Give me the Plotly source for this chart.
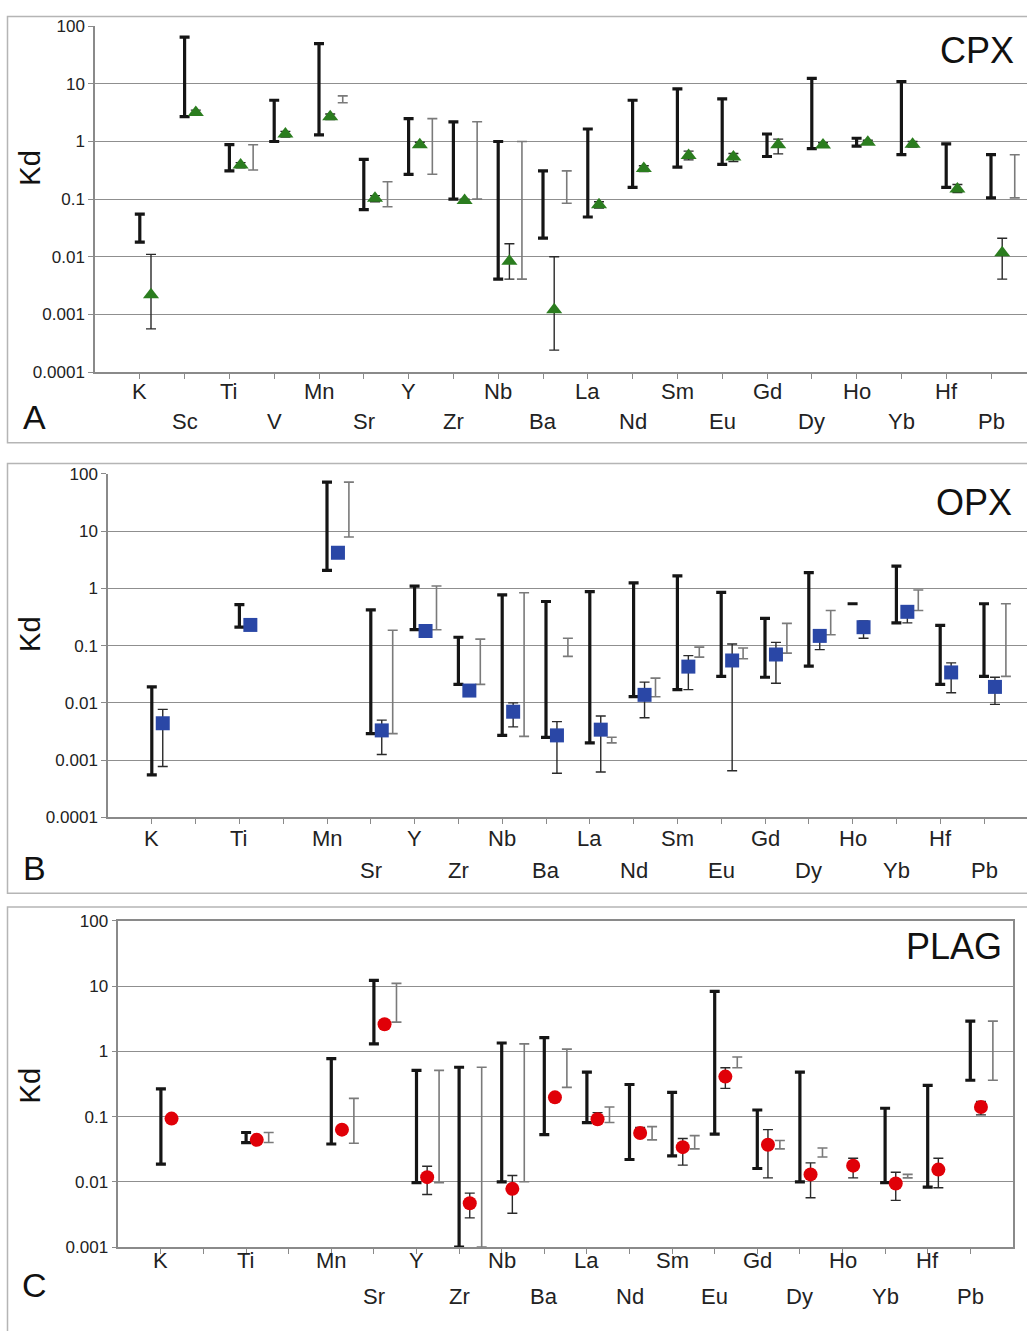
import plotly.graph_objects as go

# ---------------- data ----------------
elements = ["K", "Sc", "Ti", "V", "Mn", "Sr", "Y", "Zr", "Nb", "Ba",
            "La", "Nd", "Sm", "Eu", "Gd", "Dy", "Ho", "Yb", "Hf", "Pb"]
positions = list(range(1, 21))

# CPX (panel A)
cpx_black_lo = [0.018, 2.7, 0.31, 1.0, 1.3, 0.066, 0.27, 0.1, 0.0041, 0.021,
                0.049, 0.16, 0.36, 0.40, 0.55, 0.75, 0.83, 0.59, 0.16, 0.105]
cpx_black_hi = [0.055, 65, 0.88, 5.2, 50, 0.49, 2.5, 2.2, 1.0, 0.31,
                1.65, 5.2, 8.2, 5.5, 1.35, 12.5, 1.14, 11, 0.91, 0.59]
cpx_val = [0.0022, 3.2, 0.39, 1.35, 2.7, 0.104, 0.88, 0.095, 0.0084, 0.0012,
           0.08, 0.34, 0.57, 0.54, 0.88, 0.87, 0.97, 0.9, 0.15, 0.0117]
cpx_err_lo = [0.00056, 2.9, 0.35, 1.2, 2.4, 0.09, 0.8, 0.088, 0.0041, 0.00024,
              0.07, 0.3, 0.48, 0.45, 0.61, 0.8, 0.9, 0.8, 0.13, 0.0041]
cpx_err_hi = [0.011, 3.5, 0.43, 1.5, 3.0, 0.115, 0.97, 0.1, 0.0168, 0.01,
              0.09, 0.38, 0.68, 0.62, 1.1, 0.95, 1.05, 1.0, 0.18, 0.021]
cpx_gray_lo = [None, None, 0.32, None, 4.7, 0.074, 0.27, 0.1, 0.0041, 0.085,
               None, None, None, None, None, None, None, None, None, 0.105]
cpx_gray_hi = [None, None, 0.88, None, 6.2, 0.2, 2.5, 2.2, 1.0, 0.31,
               None, None, None, None, None, None, None, None, None, 0.59]

# OPX (panel B)
opx_black_lo = [0.00055, None, 0.21, None, 2.07, 0.0029, 0.19, 0.021, 0.0027, 0.0025,
                0.002, 0.0128, 0.017, 0.029, 0.028, 0.044, 0.54, 0.25, 0.021, 0.029]
opx_black_hi = [0.019, None, 0.52, None, 72, 0.42, 1.1, 0.14, 0.77, 0.59,
                0.88, 1.25, 1.65, 0.85, 0.3, 1.88, 0.54, 2.45, 0.226, 0.54]
opx_val = [0.0044, None, 0.23, None, 4.2, 0.0033, 0.18, 0.0164, 0.007, 0.0027,
           0.0034, 0.0138, 0.043, 0.055, 0.07, 0.148, 0.21, 0.39, 0.034, 0.019]
opx_err_lo = [0.00077, None, 0.23, None, 4.2, 0.00125, 0.18, 0.0164, 0.0038, 0.00059,
              0.00062, 0.0055, 0.017, 0.00065, 0.022, 0.085, 0.135, 0.25, 0.015, 0.0094]
opx_err_hi = [0.0077, None, 0.23, None, 4.2, 0.005, 0.18, 0.0164, 0.01, 0.0047,
              0.0059, 0.023, 0.067, 0.107, 0.114, 0.19, 0.27, 0.45, 0.05, 0.028]
opx_gray_lo = [None, None, None, None, 7.9, 0.0029, 0.19, 0.021, 0.0026, 0.065,
               0.002, 0.0128, 0.063, 0.059, 0.074, 0.155, None, 0.41, None, 0.029]
opx_gray_hi = [None, None, None, None, 72, 0.186, 1.1, 0.13, 0.84, 0.135,
               0.0025, 0.027, 0.094, 0.091, 0.245, 0.41, None, 0.94, None, 0.54]

# PLAG (panel C)
plag_black_lo = [0.0187, None, 0.04, None, 0.038, 1.3, 0.0097, 0.001, 0.01, 0.053,
                 0.081, 0.022, 0.025, 0.054, 0.016, 0.01, None, 0.0097, 0.0083, 0.36]
plag_black_hi = [0.265, None, 0.057, None, 0.77, 12.2, 0.51, 0.57, 1.34, 1.62,
                 0.48, 0.31, 0.235, 8.3, 0.126, 0.48, None, 0.134, 0.3, 2.9]
plag_val = [0.093, None, 0.044, None, 0.063, 2.6, 0.0118, 0.0047, 0.0078, 0.197,
            0.091, 0.056, 0.034, 0.41, 0.037, 0.013, 0.0177, 0.0094, 0.0154, 0.14]
plag_err_lo = [0.093, None, 0.044, None, 0.063, 2.6, 0.0064, 0.0028, 0.0033, 0.197,
               0.082, 0.048, 0.018, 0.27, 0.0115, 0.0057, 0.0115, 0.0052, 0.0081, 0.106]
plag_err_hi = [0.093, None, 0.044, None, 0.063, 2.6, 0.0173, 0.0067, 0.0125, 0.197,
               0.115, 0.068, 0.046, 0.56, 0.063, 0.0195, 0.023, 0.014, 0.023, 0.17]
plag_gray_lo = [None, None, 0.04, None, 0.039, 2.8, 0.0097, 0.001, 0.01, 0.28,
                0.081, 0.044, 0.032, 0.56, 0.032, 0.024, None, 0.0115, None, 0.36]
plag_gray_hi = [None, None, 0.057, None, 0.19, 11, 0.51, 0.57, 1.3, 1.08,
                0.14, 0.07, 0.051, 0.82, 0.043, 0.033, None, 0.013, None, 2.9]

ytick_vals = [0.0001, 0.001, 0.01, 0.1, 1, 10, 100]
ytick_text = ["0.0001", "0.001", "0.01", "0.1", "1", "10", "100"]

# ---------------- figure ----------------
W, H = 1027, 1331
FONT = "Liberation Sans, Arial, sans-serif"
fig = go.Figure()


def py(p):
    return 1 - p / H


def range_trace(xa, ya, xs, lo, hi, color, thick, width):
    x, y, m = [], [], []
    for xi, l, h in zip(xs, lo, hi):
        if l is None or h is None:
            continue
        x.append(xi)
        y.append(h)
        m.append(h - l)
    fig.add_trace(go.Scatter(
        x=x, y=y, xaxis=xa, yaxis=ya, mode="markers",
        marker=dict(size=2, color="rgba(0,0,0,0)"),
        error_y=dict(type="data", symmetric=False, array=[0] * len(x),
                     arrayminus=m, color=color, thickness=thick, width=width),
        hoverinfo="skip", showlegend=False))


def marker_trace(xa, ya, xs, val, elo, ehi, symbol, color, size):
    x, y, p, m = [], [], [], []
    for xi, v, l, h in zip(xs, val, elo, ehi):
        if v is None:
            continue
        x.append(xi)
        y.append(v)
        p.append(h - v)
        m.append(v - l)
    fig.add_trace(go.Scatter(
        x=x, y=y, xaxis=xa, yaxis=ya, mode="markers",
        marker=dict(symbol=symbol, size=size, color=color, line=dict(width=0)),
        error_y=dict(type="data", symmetric=False, array=p, arrayminus=m,
                     color="#2a2a2a", thickness=1.4, width=5),
        hoverinfo="skip", showlegend=False))


panels = [
    dict(xa="x", ya="y", left=95, step=44.8, top=17.5, bottom=368.3, yr=[-4, 2],
         blo=cpx_black_lo, bhi=cpx_black_hi, val=cpx_val, elo=cpx_err_lo, ehi=cpx_err_hi,
         glo=cpx_gray_lo, ghi=cpx_gray_hi, sym="triangle-up", col="#2b7d1f", msize=14,
         moff=0.25, goff=0.53, skip=[], name="CPX", letter="A", name_x=1016,
         name_y=42, letter_y=414, kd_y=162, frame=(7.5, 440), mirror=False, xend=1027,
         rows=(388, 418)),
    dict(xa="x2", ya="y2", left=108, step=43.8, top=471.7, bottom=820, yr=[-4, 2],
         blo=opx_black_lo, bhi=opx_black_hi, val=opx_val, elo=opx_err_lo, ehi=opx_err_hi,
         glo=opx_gray_lo, ghi=opx_gray_hi, sym="square", col="#2a47a6", msize=14,
         moff=0.25, goff=0.5, skip=[2, 4], name="OPX", letter="B", name_x=1014,
         name_y=501, letter_y=871, kd_y=635, frame=(461, 897), mirror=False, xend=1027,
         rows=(842, 874)),
    dict(xa="x3", ya="y3", left=118.3, step=42.6, top=925, bottom=1256, yr=[-3, 2],
         blo=plag_black_lo, bhi=plag_black_hi, val=plag_val, elo=plag_err_lo, ehi=plag_err_hi,
         glo=plag_gray_lo, ghi=plag_gray_hi, sym="circle", col="#e00008", msize=14,
         moff=0.25, goff=0.53, skip=[2, 4], name="PLAG", letter="C", name_x=1004,
         name_y=951, letter_y=1294, kd_y=1093, frame=(911, 1345), mirror=True, xend=1013,
         rows=(1270, 1306)),
]

for i, P in enumerate(panels):
    xa, ya = P["xa"], P["ya"]
    xs_black = positions
    xs_mark = [p + P["moff"] for p in positions]
    xs_gray = [p + P["goff"] for p in positions]
    range_trace(xa, ya, xs_black, P["blo"], P["bhi"], "#151515", 3.2, 5)
    range_trace(xa, ya, xs_gray, P["glo"], P["ghi"], "#7a7a7a", 1.6, 5)
    marker_trace(xa, ya, xs_mark, P["val"], P["elo"], P["ehi"], P["sym"], P["col"], P["msize"])

    # staggered element labels on the category axis
    for p, e in zip(positions, elements):
        if p in P["skip"]:
            continue
        row_y = P["rows"][0] if p % 2 == 1 else P["rows"][1]
        fig.add_annotation(xref=xa, yref="paper", x=p, y=py(row_y), text=e,
                           showarrow=False, xanchor="center", yanchor="middle",
                           font=dict(family=FONT, size=22, color="#222"))

    xmax = (P["xend"] - P["left"]) / P["step"]
    sfx = "" if i == 0 else str(i + 1)
    fig.update_layout(**{
        "xaxis" + sfx: dict(
            domain=[P["left"] / W, P["xend"] / W], range=[0, xmax], anchor="y" + sfx,
            tickvals=positions, showticklabels=False, ticks="outside", ticklen=5,
            tickcolor="#8a8a8a",
            showgrid=False, zeroline=False, showline=True, linecolor="#8a8a8a",
            linewidth=1.5, mirror=P["mirror"], fixedrange=True),
        "yaxis" + sfx: dict(
            domain=[py(P["bottom"]), py(P["top"])], type="log", range=P["yr"],
            anchor="x" + sfx, tickvals=ytick_vals, ticktext=ytick_text,
            ticks="outside", ticklen=5, tickcolor="#8a8a8a",
            tickfont=dict(family=FONT, size=17, color="#222"),
            showgrid=True, gridcolor="#8f8f8f", gridwidth=1,
            showline=True, linecolor="#8a8a8a", linewidth=1.5, mirror=P["mirror"],
            fixedrange=True),
    })

    # outer frame
    fig.add_shape(type="rect", xref="paper", yref="paper",
                  x0=7.5 / W, x1=1.02, y0=py(P["frame"][1]), y1=py(P["frame"][0]),
                  line=dict(color="#b5b5b5", width=1.5), layer="below")
    # panel name
    fig.add_annotation(xref="paper", yref="paper", x=P["name_x"] / W,
                       y=py(P["name_y"]), text=P["name"], showarrow=False,
                       xanchor="right", yanchor="middle",
                       font=dict(family=FONT, size=36, color="#111"))
    # panel letter
    fig.add_annotation(xref="paper", yref="paper", x=34 / W, y=py(P["letter_y"]),
                       text=P["letter"], showarrow=False, xanchor="center", yanchor="middle",
                       font=dict(family=FONT, size=34, color="#111"))
    # Kd title
    fig.add_annotation(xref="paper", yref="paper", x=30 / W, y=py(P["kd_y"]),
                       text="Kd", showarrow=False, textangle=-90,
                       xanchor="center", yanchor="middle",
                       font=dict(family=FONT, size=29, color="#111"))

fig.update_layout(width=W, height=H, margin=dict(l=0, r=0, t=0, b=0),
                  paper_bgcolor="white", plot_bgcolor="white", showlegend=False)

fig.write_html("out.html")
